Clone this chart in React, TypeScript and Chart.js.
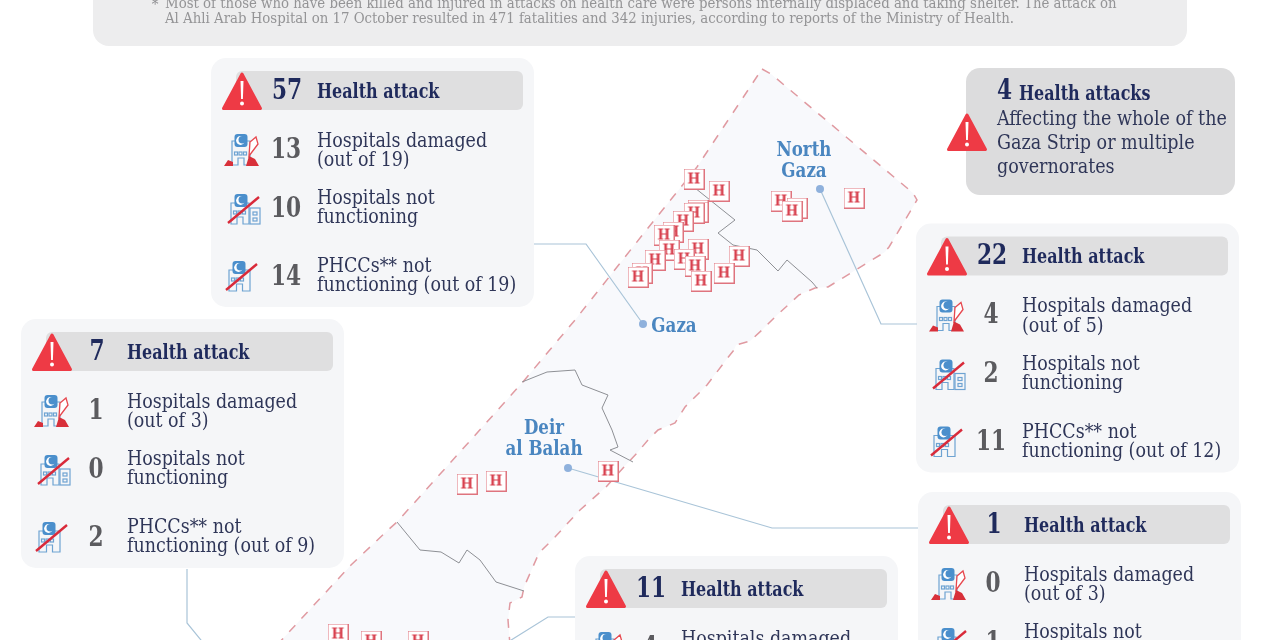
import React, { useEffect, useRef } from "react";
import { Chart, registerables } from "chart.js";

Chart.register(...registerables);

// ---------- data ----------
const cardNames = ["Gaza", "North Gaza", "Khan Younis", "Deir al Balah", "Rafah"];
const healthAttacks = [57, 22, 7, 1, 11];
const hospitalsDamaged = [13, 4, 1, 0, 4];
const hospitalsTotal = [19, 5, 3, 3, 3];
const hospitalsDown = [10, 2, 0, 1, 1];
const phccDown = [14, 11, 2, 1, 1];
const phccTotal = [19, 12, 9, 3, 5];

const noteLines = [
  "Most of those who have been killed and injured in attacks on health care were persons internally displaced and taking shelter. The attack on",
  "Al Ahli Arab Hospital on 17 October resulted in 471 fatalities and 342 injuries, according to reports of the Ministry of Health.",
];
const wideAttacks = 4;
const wideLines = ["Affecting the whole of the", "Gaza Strip or multiple", "governorates"];

const outline = [
  [762, 69], [771, 74], [913, 193], [917, 200], [901, 227], [889, 247], [885, 252], [828, 287], [815, 288],
  [799, 295], [775, 317], [762, 330], [750, 341], [736, 345], [734, 350], [726, 360], [707, 385], [685, 407],
  [675, 423], [658, 430], [648, 440], [637, 453], [624, 467], [606, 487], [580, 510], [555, 537], [539, 553],
  [524, 587], [522, 597], [510, 603], [508, 620], [510, 645], [277, 645], [351, 565], [388, 530], [397, 522],
  [522, 383], [575, 320], [644, 233], [697, 167], [762, 69],
];
const borderNorth = [[695, 188], [735, 220], [718, 233], [733, 245], [757, 250], [778, 271], [787, 260], [812, 282], [817, 288]];
const borderDeirN = [[522, 382], [547, 372], [575, 370], [582, 385], [608, 395], [602, 408], [612, 430], [618, 447], [610, 450], [633, 462]];
const borderDeirS = [[397, 522], [420, 550], [441, 552], [459, 563], [467, 550], [480, 560], [496, 582], [524, 591]];

const hospitals = [
  [694, 179], [719, 191], [698, 210], [698, 212], [694, 213], [683, 221], [673, 232], [664, 235], [669, 250],
  [698, 249], [655, 260], [684, 259], [695, 266], [739, 256], [724, 273], [701, 281], [642, 273], [638, 277],
  [781, 201], [797, 208], [792, 211], [854, 198], [467, 484], [496, 481], [608, 471], [338, 634], [371, 641], [418, 641],
];

const leaderNorth = [[820, 189], [881, 324], [917, 324]];
const leaderGaza = [[643, 324], [586, 244], [534, 244]];
const leaderDeir = [[568, 468], [772, 528], [918, 528]];
const leaderKhan = [[187, 569], [187, 623], [205, 645]];
const leaderRafah = [[508, 642], [548, 617], [575, 617]];
const governorateDots = [[820, 189], [643, 324], [568, 468]];

const placeNames = [
  { lines: ["North", "Gaza"], x: 804, y: 150 },
  { lines: ["Gaza"], x: 674, y: 326 },
  { lines: ["Deir", "al Balah"], x: 544, y: 428 },
];

// ---------- layout ----------
const cardOffsets = [[0, 0], [705, 165.5], [-190, 261], [707, 434], [364, 498]];
const NAVY = "#1f2a5c";
const INK = "#2f3658";
const GREY = "#5b5b5f";
const BLUE = "#4a86c0";
const RED = "#ee3a45";
const SERIF = "'DejaVu Serif Condensed','DejaVu Serif',serif";
const ptsOf = (a: number[][]) => a.map(([x, y]) => ({ x, y }));

function txt(ctx: any, s: string, x: number, y: number, size: number, weight: string, color: string, align = "left", hs = 1) {
  ctx.save();
  ctx.font = `${weight} ${size}px ${SERIF}`;
  ctx.fillStyle = color;
  ctx.textBaseline = "middle";
  ctx.textAlign = align;
  ctx.translate(x, y + 1.5);
  ctx.scale(hs, 1);
  ctx.fillText(s, 0, 0);
  ctx.restore();
}

function rr(ctx: any, x: number, y: number, w: number, h: number, r: number, fill: string) {
  ctx.beginPath();
  ctx.roundRect(x, y, w, h, r);
  ctx.fillStyle = fill;
  ctx.fill();
}

function warn(ctx: any, cx: number, base: number) {
  ctx.save();
  ctx.fillStyle = RED;
  ctx.strokeStyle = RED;
  ctx.lineWidth = 3;
  ctx.lineJoin = "round";
  ctx.beginPath();
  ctx.moveTo(cx, base - 36);
  ctx.lineTo(cx + 18.5, base - 1.5);
  ctx.lineTo(cx - 18.5, base - 1.5);
  ctx.closePath();
  ctx.fill();
  ctx.stroke();
  ctx.fillStyle = "#fff";
  ctx.beginPath();
  ctx.moveTo(cx - 1.5, base - 29);
  ctx.lineTo(cx + 1.5, base - 29);
  ctx.lineTo(cx + 0.9, base - 11);
  ctx.lineTo(cx - 0.9, base - 11);
  ctx.closePath();
  ctx.fill();
  ctx.beginPath();
  ctx.arc(cx, base - 6.5, 2, 0, Math.PI * 2);
  ctx.fill();
  ctx.restore();
}

function badge(ctx: any, cx: number, cy: number) {
  rr(ctx, cx - 6.5, cy - 7, 13, 13, 3, "#4b8fcc");
  ctx.fillStyle = "#fff";
  ctx.beginPath();
  ctx.arc(cx - 0.5, cy - 0.5, 4.4, 0, Math.PI * 2);
  ctx.fill();
  ctx.fillStyle = "#4b8fcc";
  ctx.beginPath();
  ctx.arc(cx + 1.3, cy - 1.2, 3.8, 0, Math.PI * 2);
  ctx.fill();
}

function tower(ctx: any, x0: number, x1: number, top: number, bottom: number) {
  ctx.strokeStyle = "#6ea3d2";
  ctx.lineWidth = 1.2;
  ctx.beginPath();
  ctx.moveTo(x0, bottom);
  ctx.lineTo(x0, top);
  ctx.lineTo(x1, top);
  ctx.lineTo(x1, bottom);
  ctx.lineTo((x0 + x1) / 2 + 3, bottom);
  ctx.lineTo((x0 + x1) / 2 + 3, bottom - 7);
  ctx.lineTo((x0 + x1) / 2 - 3, bottom - 7);
  ctx.lineTo((x0 + x1) / 2 - 3, bottom);
  ctx.closePath();
  ctx.stroke();
  for (let i = 0; i < 3; i++) ctx.strokeRect(x0 + 2.5 + i * 4.5, bottom - 13, 3, 3);
}

function icon(ctx: any, cx: number, cy: number, kind: string) {
  ctx.save();
  if (kind === "damaged") {
    tower(ctx, cx - 10, cx + 8, cy - 9, cy + 15);
    badge(ctx, cx - 1, cy - 9);
    ctx.fillStyle = "#fff";
    ctx.strokeStyle = "#e7484f";
    ctx.lineWidth = 1.3;
    ctx.beginPath();
    ctx.moveTo(cx + 7, cy + 6);
    ctx.lineTo(cx + 8, cy - 8);
    ctx.lineTo(cx + 14, cy - 13);
    ctx.lineTo(cx + 16, cy - 6);
    ctx.closePath();
    ctx.fill();
    ctx.stroke();
    ctx.fillStyle = "#d8303a";
    ctx.beginPath();
    ctx.moveTo(cx - 18, cy + 16);
    ctx.lineTo(cx - 14, cy + 10);
    ctx.lineTo(cx - 9, cy + 12);
    ctx.lineTo(cx - 9, cy + 16);
    ctx.closePath();
    ctx.moveTo(cx + 4, cy + 16);
    ctx.lineTo(cx + 7, cy + 6);
    ctx.lineTo(cx + 13, cy + 9);
    ctx.lineTo(cx + 17, cy + 16);
    ctx.closePath();
    ctx.fill();
  } else {
    const wide = kind === "down";
    tower(ctx, cx - 13, wide ? cx + 5 : cx + 8, cy - 7, cy + 14);
    if (wide) {
      ctx.strokeRect(cx + 6, cy - 2, 10, 16);
      ctx.strokeRect(cx + 9, cy + 2, 4, 3);
      ctx.strokeRect(cx + 9, cy + 8, 4, 3);
    }
    badge(ctx, cx - 3, cy - 9);
    ctx.strokeStyle = "#d92a3a";
    ctx.lineWidth = 2.4;
    ctx.beginPath();
    ctx.moveTo(cx - 16, cy + 13);
    ctx.lineTo(cx + 15, cy - 13);
    ctx.stroke();
  }
  ctx.restore();
}

function drawCard(ctx: any, i: number) {
  const [dx, dy] = cardOffsets[i];
  const X = (v: number) => v + dx;
  const Y = (v: number) => v + dy;
  const tx = X(317);
  rr(ctx, X(211), Y(58), 323, 249, 15, "#f5f6f8");
  rr(ctx, X(236), Y(71), 287, 39, 6, "#dfdfe0");
  warn(ctx, X(242), Y(110));
  txt(ctx, String(healthAttacks[i]), X(287), Y(90), 28, "bold", NAVY, "center", 0.86);
  txt(ctx, "Health attack", tx, Y(91), 19.5, "bold", NAVY, "left", 0.91);
  const rows = [
    { n: hospitalsDamaged[i], k: "damaged", ic: [242, 150], l: ["Hospitals damaged", `(out of ${hospitalsTotal[i]})`], ty: [140, 159.5], ny: 149 },
    { n: hospitalsDown[i], k: "down", ic: [244, 210], l: ["Hospitals not", "functioning"], ty: [197.5, 216.5], ny: 208 },
    { n: phccDown[i], k: "phcc", ic: [242, 277], l: ["PHCCs** not", `functioning (out of ${phccTotal[i]})`], ty: [265.5, 284.5], ny: 276 },
  ];
  for (const r of rows) {
    icon(ctx, X(r.ic[0]), Y(r.ic[1]), r.k);
    txt(ctx, String(r.n), X(286), Y(r.ny), 28, "bold", GREY, "center", 0.86);
    r.l.forEach((s, j) => txt(ctx, s, tx, Y(r.ty[j]), 19.5, "normal", INK, "left", 0.995));
  }
}

const backdrop = {
  id: "backdrop",
  beforeDatasetsDraw(chart: any) {
    const { ctx, scales } = chart;
    const px = (p: number[]) => [scales.x.getPixelForValue(p[0]), scales.y.getPixelForValue(p[1])];
    ctx.save();
    ctx.beginPath();
    outline.forEach((p, i) => {
      const [a, b] = px(p);
      i ? ctx.lineTo(a, b) : ctx.moveTo(a, b);
    });
    ctx.closePath();
    ctx.fillStyle = "#f8f9fc";
    ctx.fill();

    rr(ctx, 93, -30, 1094, 76, 16, "#ededee");
    txt(ctx, "*", 155, 4, 15, "normal", "#8f8f92", "center");
    noteLines.forEach((s, i) => txt(ctx, s, 165, 3 + i * 14.5, 14.8, "normal", "#949496"));

    rr(ctx, 966, 68, 269, 127, 14, "#dcdcdd");
    warn(ctx, 967, 151);
    txt(ctx, String(wideAttacks), 997, 90, 28, "bold", NAVY, "left", 0.86);
    txt(ctx, "Health attacks", 1019, 93, 19.5, "bold", NAVY, "left", 0.91);
    wideLines.forEach((s, i) => txt(ctx, s, 997, 118.5 + i * 24, 19.5, "normal", INK));

    cardNames.forEach((_, i) => drawCard(ctx, i));
    ctx.restore();
  },
  afterDatasetsDraw(chart: any) {
    const { ctx } = chart;
    for (const p of placeNames) p.lines.forEach((s, i) => txt(ctx, s, p.x, p.y - 1 + i * 21, 19.5, "bold", BLUE, "center", 0.95));
  },
};

function hospitalMark() {
  const c = document.createElement("canvas");
  c.width = 21;
  c.height = 21;
  const g = c.getContext("2d") as CanvasRenderingContext2D;
  g.fillStyle = "#fff";
  g.fillRect(0.5, 0.5, 20, 20);
  g.strokeStyle = "#df747e";
  g.lineWidth = 1;
  g.strokeRect(0.5, 0.5, 20, 20);
  g.fillStyle = "#d8404e";
  g.font = `bold 15px ${SERIF}`;
  g.textAlign = "center";
  g.textBaseline = "middle";
  g.fillText("H", 10.5, 11.5);
  return c;
}

const line = (data: number[][], color: string, width: number, dash: number[] = [], order = 3) => ({
  type: "line",
  data: ptsOf(data),
  fill: false,
  borderColor: color,
  borderWidth: width,
  borderDash: dash,
  pointRadius: 0,
  tension: 0,
  order,
});

export default function App() {
  const ref = useRef<HTMLCanvasElement>(null);
  useEffect(() => {
    const chart = new Chart(ref.current as HTMLCanvasElement, {
      type: "scatter",
      data: {
        datasets: [
          { data: ptsOf(hospitals), pointStyle: hospitalMark(), pointRadius: 10, order: 0 },
          { data: ptsOf(governorateDots), backgroundColor: "#8fb1dc", borderWidth: 0, pointRadius: 4, order: 1 },
          line(outline.slice(0, 32), "#e09aa1", 1.5, [9, 9], 4),
          line(outline.slice(32), "#e09aa1", 1.5, [9, 9], 4),
          line(borderNorth, "#8e9095", 1, [], 2),
          line(borderDeirN, "#8e9095", 1, [], 2),
          line(borderDeirS, "#8e9095", 1, [], 2),
          line(leaderNorth, "#a9c4d8", 1.2),
          line(leaderGaza, "#a9c4d8", 1.2),
          line(leaderDeir, "#a9c4d8", 1.2),
          line(leaderKhan, "#a9c4d8", 1.2),
          line(leaderRafah, "#a9c4d8", 1.2),
        ] as any,
      },
      options: {
        animation: false,
        responsive: false,
        devicePixelRatio: 1,
        layout: { padding: 0, autoPadding: false },
        plugins: { legend: { display: false }, tooltip: { enabled: false } },
        scales: {
          x: { type: "linear", min: 0, max: 1280, display: false },
          y: { type: "linear", min: 0, max: 640, reverse: true, display: false },
        },
      },
      plugins: [backdrop],
    });
    return () => chart.destroy();
  }, []);
  return (
    <div style={{ position: "fixed", left: 0, top: 0, width: 1280, height: 640, background: "#fff" }}>
      <canvas ref={ref} width={1280} height={640} style={{ display: "block" }} />
    </div>
  );
}
